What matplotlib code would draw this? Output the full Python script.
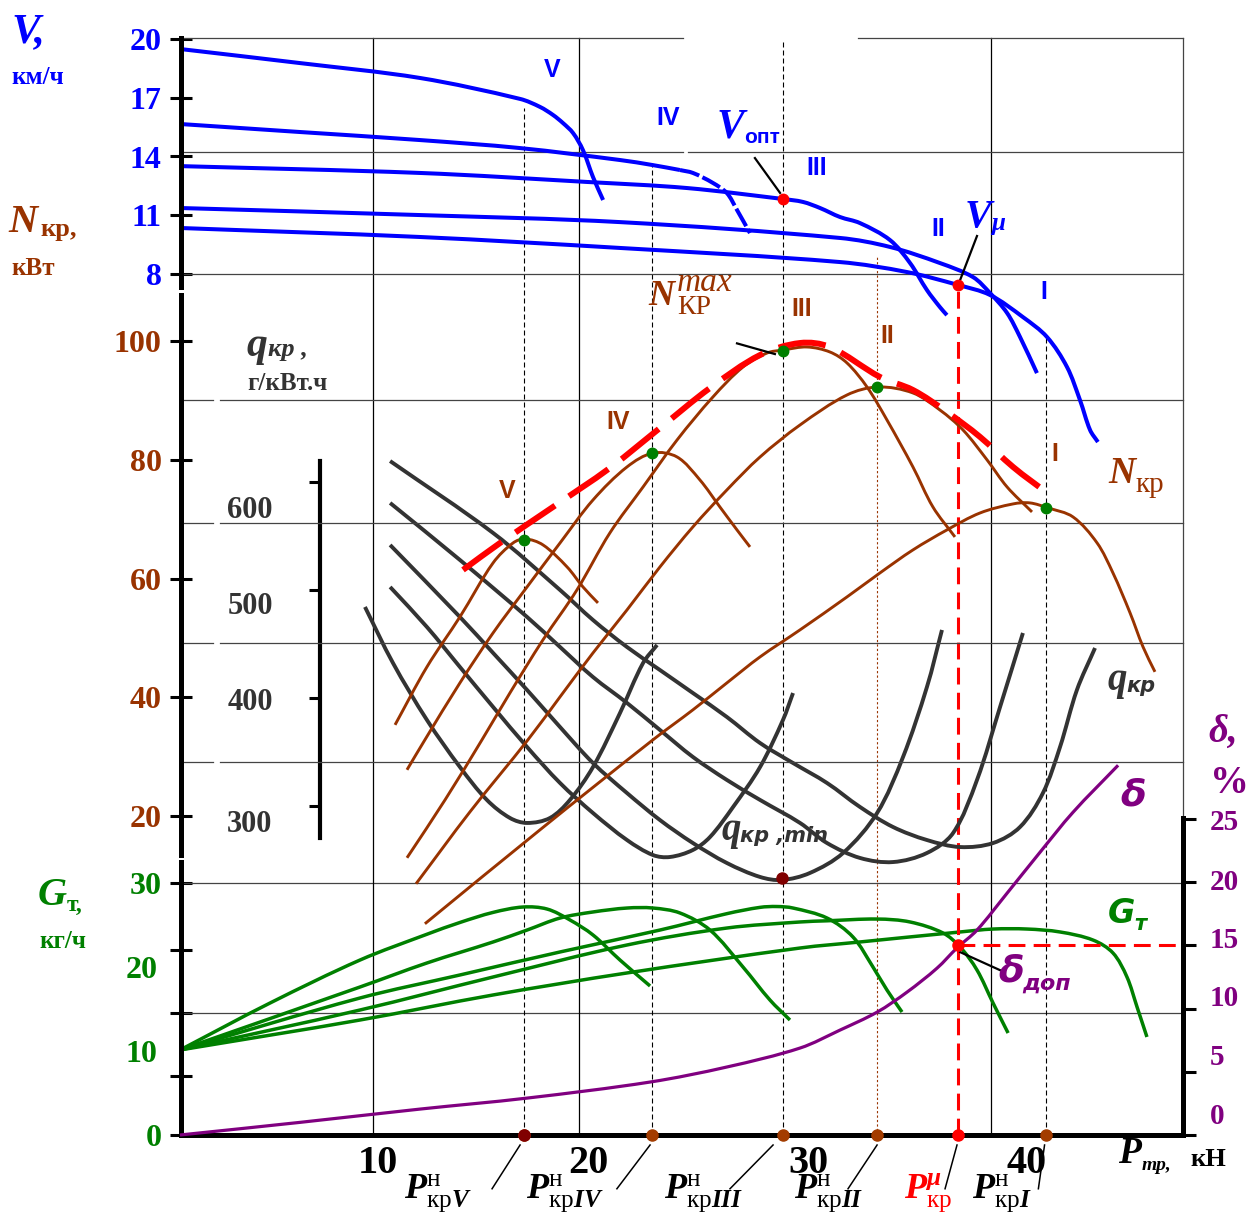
import numpy as np
import matplotlib
matplotlib.use('Agg')
import matplotlib.pyplot as plt
from matplotlib.path import Path
from matplotlib.patches import PathPatch

plt.rcParams['font.family'] = ['Liberation Serif', 'DejaVu Serif']
plt.rcParams['mathtext.fontset'] = 'custom'
plt.rcParams['mathtext.rm'] = 'Liberation Serif'
plt.rcParams['mathtext.it'] = 'Liberation Serif:italic'
plt.rcParams['mathtext.bf'] = 'Liberation Serif:bold'
plt.rcParams['mathtext.bfit'] = 'Liberation Serif:bold:italic'

BLUE = '#0000ff'
BROWN = '#993300'
GRAY = '#333333'
GREEN = '#008000'
PURPLE = '#800080'
RED = '#ff0000'

# --- скорость V, км/ч (передачи V ... I) ---
P_v5 = [0.63, 6.46, 12.28, 17.14, 18.11, 18.74, 19.22, 19.71, 20.19, 20.68, 21.17]
V_v5 = [19.49, 18.77, 18.01, 16.94, 16.53, 16.12, 15.71, 15.20, 14.33, 12.95, 11.78]
P_v4 = [0.63, 6.46, 12.28, 17.14, 21.99, 23.59, 24.90, 25.53, 26.50, 27.18, 27.67, 28.30]
V_v4 = [15.66, 15.25, 14.84, 14.43, 13.82, 13.56, 13.31, 13.16, 12.65, 12.13, 11.27, 10.09]
P_v3 = [0.63, 12.28, 20.39, 25.24, 29.90, 30.87, 31.70, 32.67, 33.64, 35.10, 36.07, 36.89, 37.52, 37.86]
V_v3 = [13.51, 13.16, 12.70, 12.39, 11.83, 11.68, 11.37, 10.91, 10.60, 9.73, 8.56, 7.18, 6.31, 5.90]
P_v2 = [0.63, 12.28, 21.99, 32.67, 35.10, 37.52, 39.13, 39.95, 40.78, 41.41, 42.23]
V_v2 = [11.37, 11.01, 10.65, 9.84, 9.38, 8.56, 7.84, 7.03, 6.01, 4.78, 2.94]
P_v1 = [0.63, 12.28, 21.99, 32.67, 35.92, 38.40, 39.95, 41.55, 42.72, 43.69, 44.32, 44.81, 45.19]
V_v1 = [10.35, 9.89, 9.33, 8.61, 8.10, 7.44, 6.93, 5.80, 4.78, 3.25, 1.56, 0.03, -0.58]

# --- тяговая мощность N_кр, кВт ---
P_n5 = [11.07, 12.62, 14.22, 15.83, 16.80, 17.38, 18.25, 19.42, 20.19, 20.92]
N_n5 = [35.35, 45.12, 53.54, 62.63, 65.99, 66.67, 65.66, 61.95, 58.59, 55.89]
P_n4 = [11.65, 12.52, 14.22, 15.83, 17.48, 19.08, 20.68, 22.33, 23.59, 24.76, 25.87, 26.84, 27.67, 28.30]
N_n4 = [27.78, 32.83, 42.42, 50.84, 58.59, 65.99, 73.23, 78.79, 81.14, 80.47, 76.60, 72.05, 68.18, 65.32]
P_n3 = [11.65, 13.50, 15.29, 16.65, 18.25, 19.90, 21.50, 23.11, 24.76, 26.50, 27.96, 29.13, 29.90,
        31.07, 32.18, 33.01, 33.98, 34.95, 36.21, 37.18, 38.25]
N_n3 = [12.96, 22.73, 32.83, 40.74, 49.66, 58.08, 67.68, 75.42, 83.33, 90.57, 95.62, 97.98, 98.48,
        98.99, 98.15, 96.30, 92.26, 86.70, 78.79, 72.05, 67.00]
P_n2 = [12.09, 14.71, 17.52, 19.08, 20.68, 22.33, 23.93, 25.53, 27.18, 28.79, 30.73, 33.01,
        34.51, 36.21, 37.52, 38.64, 39.81, 40.78, 41.99]
N_n2 = [8.59, 20.71, 32.83, 40.07, 47.47, 54.71, 61.95, 68.69, 74.92, 80.47, 85.86, 90.91,
        92.26, 91.25, 88.38, 85.02, 79.97, 75.42, 71.21]
P_n1 = [12.52, 18.11, 23.59, 25.53, 27.18, 28.79, 30.73, 33.01, 34.61, 36.21, 37.86, 39.47,
        41.07, 41.89, 42.77, 43.98, 45.15, 45.92, 46.75, 47.38, 47.96]
N_n1 = [1.85, 17.68, 32.83, 37.88, 42.42, 46.80, 51.35, 56.90, 60.94, 64.81, 68.18, 71.04,
        72.56, 72.73, 71.89, 70.37, 65.99, 60.94, 54.21, 48.48, 44.28]
# огибающая N_кр max
P_nmax = [14.37, 16.17, 18.74, 21.50, 23.93, 26.36, 28.79, 30.73, 32.18, 34.61, 36.21, 37.86, 39.47, 41.07, 42.86]
N_nmax = [61.45, 65.99, 72.05, 78.62, 85.35, 92.09, 97.64, 99.66, 98.99, 93.94, 91.75, 88.05, 83.84, 78.79, 74.07]
# номинальные тяговые усилия P_кр^н (V, IV, III, II, I) и максимумы мощности
P_nom = [17.33, 23.56, 29.90, 34.49, 42.65]
N_peak = [66.5, 81.1, 98.3, 92.3, 71.9]
V_guide_top = [16.48, 13.67, 19.85, 8.97, 4.78]

# --- удельный расход q_кр, г/кВт.ч ---
P_q5 = [9.61, 10.97, 12.62, 14.22, 15.53, 16.65, 17.48, 18.59, 19.56, 20.68, 21.99, 23.11, 23.79]
q_q5 = [484.3, 432.4, 379.6, 336.1, 305.6, 288.9, 284.3, 288.9, 305.6, 336.1, 386.1, 432.4, 449.1]
P_q4 = [10.83, 12.62, 14.22, 15.83, 17.48, 19.08, 20.68, 22.33, 23.59, 24.42, 25.53, 26.36, 27.48,
        28.79, 29.90, 30.39]
q_q4 = [502.8, 465.7, 428.7, 391.7, 354.6, 321.3, 293.5, 268.5, 254.6, 252.8, 259.3, 271.3, 299.1,
        336.1, 379.6, 404.6]
P_q3 = [10.83, 14.22, 15.83, 17.48, 19.08, 20.68, 22.33, 23.93, 25.53, 27.18, 28.79, 29.85, 31.21,
        32.82, 34.47, 35.73, 36.89, 37.62]
q_q3 = [541.7, 475.0, 441.7, 407.4, 373.1, 339.8, 312.0, 287.0, 265.7, 247.2, 234.3, 231.5, 238.0,
        256.5, 293.5, 345.4, 410.2, 463.0]
P_q2 = [10.83, 14.22, 17.48, 19.08, 20.68, 22.33, 23.93, 25.53, 27.18, 28.79, 30.73, 32.04, 33.64,
        35.24, 36.89, 38.16, 39.32, 40.44, 41.55]
q_q2 = [580.6, 527.8, 475.0, 447.2, 419.4, 395.4, 370.4, 345.4, 324.1, 305.6, 284.3, 265.7, 251.9,
        248.1, 256.5, 275.0, 324.1, 391.7, 460.2]
P_q1 = [10.83, 15.83, 19.08, 20.68, 22.33, 23.93, 25.53, 27.18, 28.79, 30.39, 32.04, 33.64, 35.24,
        36.89, 38.50, 40.10, 41.41, 42.52, 43.35, 44.17, 45.05]
q_q1 = [619.4, 552.8, 500.0, 472.2, 447.2, 425.9, 404.6, 382.4, 358.3, 339.8, 321.3, 299.1, 280.6,
        268.5, 262.0, 265.7, 280.6, 312.0, 354.6, 407.4, 446.3]
P_qmin, q_min = 29.85, 233.3

# --- часовой расход G_т, кг/ч ---
P_g5 = [0.63, 5.0, 9.37, 12.62, 14.22, 15.83, 17.28, 18.45, 19.56, 20.68, 21.99, 23.45]
G_g5 = [10.12, 15.71, 20.83, 23.9, 25.3, 26.5, 27.14, 26.90, 25.60, 23.81, 20.83, 17.74]
P_g4 = [0.63, 9.37, 12.62, 15.83, 17.48, 19.08, 20.68, 22.33, 23.59, 24.90, 26.36, 27.96, 29.27, 30.24]
G_g4 = [10.12, 17.62, 20.48, 22.98, 24.40, 25.83, 26.55, 27.02, 27.02, 26.43, 24.40, 20.0, 16.07, 13.69]
P_g3 = [0.63, 9.37, 14.22, 19.08, 23.93, 27.18, 28.79, 29.6, 30.39, 32.04, 33.30, 34.27, 34.95, 35.68]
G_g3 = [10.12, 16.31, 19.05, 21.79, 24.40, 26.35, 27.1, 27.2, 27.02, 25.83, 23.57, 20.0, 17.26, 14.64]
P_g2 = [0.63, 9.37, 15.83, 22.33, 27.18, 30.73, 32.04, 34.47, 36.07, 37.67, 38.50, 39.32, 40.10, 40.83]
G_g2 = [10.12, 14.88, 18.81, 22.62, 24.64, 25.36, 25.5, 25.71, 25.36, 24.05, 22.38, 19.64, 15.71, 12.14]
P_g1 = [0.63, 9.37, 15.83, 22.33, 30.73, 33.64, 38.50, 40.10, 41.75, 43.35, 44.95, 45.92, 46.60, 47.09, 47.57]
G_g1 = [10.12, 13.69, 16.67, 19.29, 22.26, 22.98, 24.17, 24.52, 24.52, 24.17, 23.21, 21.67, 18.81, 15.24, 11.67]

# --- буксование δ, % ---
P_d = [0.63, 6.46, 12.28, 17.48, 23.45, 27.18, 30.73, 32.67, 34.47, 35.92, 37.38, 38.35, 39.32, 40.78,
       42.38, 43.98, 46.17]
d_d = [0.0, 1.0, 2.05, 2.92, 4.19, 5.38, 6.88, 8.30, 9.72, 11.30, 13.2, 14.8, 16.21, 19.13,
       22.37, 25.53, 29.25]
d_labels = ['25', '20', '15', '10', '5', '0']
d_label_at = [24.98, 20.24, 15.65, 11.07, 6.40, 1.74]   # где стоят подписи шкалы δ

P_mu = 38.4          # P_кр^μ
delta_dop = 15       # δ_доп
V_mu = 7.44
P_opt, V_opt = 29.9, 11.83

# --- figure / overlaid scales ---
W, H = 1260, 1213
X0, KX = 167, 20.6          # pixel column of P = 0, pixels per kN
XL, XR = 181, 1183          # left and right axis lines
P_left, P_right = (XL - X0) / KX, (XR - X0) / KX

fig = plt.figure(figsize=(W / 100, H / 100), dpi=100)


def layer(v1, y1, v2, y2):
    a = fig.add_axes([0, 0, 1, 1])
    a.set_xlim(-X0 / KX, (W - X0) / KX)
    k = (v2 - v1) / (y1 - y2)
    a.set_ylim(v1 - (H - y1) * k, v1 + y1 * k)
    a.patch.set_visible(False)
    for s in a.spines.values():
        s.set_visible(False)
    a.set_xticks([])
    a.set_yticks([])
    return a


def frac(a, v):
    lo, hi = a.get_ylim()
    return (v - lo) / (hi - lo)


def txt(x, y, s, **kw):
    fig.text(x / W, 1 - y / H, s, **kw)


def curve(a, xs, ys, color, lw, ls='-', z=2):
    # smooth line through the read points (chord-parametrised cubic Bezier path)
    pts = np.column_stack([xs, ys]).astype(float)
    d = a.transData.transform(pts)
    t = np.concatenate([[0.0], np.cumsum(np.hypot(*np.diff(d, axis=0).T))])
    n = len(pts)
    m = np.zeros_like(pts)
    for i in range(n):
        lo, hi = max(i - 1, 0), min(i + 1, n - 1)
        m[i] = (pts[hi] - pts[lo]) / (t[hi] - t[lo])
    verts, codes = [pts[0]], [Path.MOVETO]
    for i in range(n - 1):
        h = t[i + 1] - t[i]
        verts += [pts[i] + m[i] * h / 3, pts[i + 1] - m[i + 1] * h / 3, pts[i + 1]]
        codes += [Path.CURVE4] * 3
    a.add_patch(PathPatch(Path(verts, codes), fill=False, edgecolor=color, lw=lw,
                          linestyle=ls, capstyle='butt', zorder=z))


axG = layer(30, 883, 0, 1135)
axD = layer(25, 819, 0, 1135)
axQ = layer(600, 482, 300, 806)
axN = layer(100, 341, 20, 816)
axV = layer(20, 39, 8, 274)

# grid
gc, gw = '#444444', 0.9
axV.plot([P_left, 25.05], [20.05, 20.05], color=gc, lw=gw)
axV.plot([33.54, P_right], [20.05, 20.05], color=gc, lw=gw)
axV.plot([P_left, 25.05], [14.23, 14.23], color=gc, lw=gw)
axV.plot([25.29, P_right], [14.23, 14.23], color=gc, lw=gw)
axV.plot([P_left, P_right], [8.0, 8.0], color=gc, lw=gw)
for n in [90.07, 69.36, 49.16, 29.12]:
    axN.plot([P_left, 2.23], [n, n], color=gc, lw=gw)
    axN.plot([2.57, P_right], [n, n], color=gc, lw=gw)
for g in [30, 14.52]:
    axG.plot([P_left, P_right], [g, g], color=gc, lw=gw)
for p in [10, 20, 40]:
    axG.axvline(p, ymin=frac(axG, 0), ymax=frac(axV, 20.05), color='k', lw=0.9)
axG.axvline(P_right, ymin=frac(axD, 25.1), ymax=frac(axV, 20.05), color=gc, lw=0.9)

# guide lines at P_кр^н
for p, top, c in zip(P_nom, V_guide_top, ['k', 'k', 'k', BROWN, 'k']):
    axG.axvline(p, ymin=frac(axG, 0), ymax=frac(axV, top), color=c, lw=0.8,
                dashes=(4.5, 2.7) if c == 'k' else (2, 2))


# axes lines
def left_spine(a, lo, hi, ticks, labels, color, xpos=XL, size=23):
    sp = a.spines['left']
    sp.set_visible(True)
    sp.set_position(('axes', xpos / W))
    sp.set_bounds(lo, hi)
    sp.set_linewidth(3.6)
    a.set_yticks(ticks)
    a.set_yticklabels(labels, fontweight='bold')
    a.tick_params(axis='y', left=True, direction='inout', length=16, width=2.2,
                  pad=6, labelsize=size, labelcolor=color)


left_spine(axV, 7.33, 20.05, [20, 17, 14, 11, 8], ['20', '17', '14', '11', '8'], BLUE)
left_spine(axN, 13.5, 107.7, [100, 80, 60, 40, 20], ['100', '80', '60', '40', '20'], BROWN)
left_spine(axG, 0, 32.5, [0, 7, 14.5, 22, 30], ['0', '', '', '', '30'], GREEN)
axG.set_yticks([10, 20], minor=True)
axG.set_yticklabels(['10', '20'], minor=True, fontweight='bold')
axG.tick_params(axis='y', which='minor', length=0, pad=17, labelsize=23, labelcolor=GREEN)
axG.spines['bottom'].set_visible(True)
axG.spines['bottom'].set_position(('data', 0))
axG.spines['bottom'].set_bounds(P_left, P_right)
axG.spines['bottom'].set_linewidth(3.6)

sq = axQ.spines['left']
sq.set_visible(True)
sq.set_position(('axes', 320 / W))
sq.set_bounds(270.4, 619.4)
sq.set_linewidth(3)
axQ.set_yticks([300, 400, 500, 600])
axQ.set_yticklabels([])
axQ.tick_params(axis='y', left=True, direction='out', length=8, width=2.2)

sd = axD.spines['right']
sd.set_visible(True)
sd.set_position(('axes', XR / W))
sd.set_bounds(0, 25.1)
sd.set_linewidth(3.6)
axD.set_yticks([0, 5, 10, 15, 20, 25])
axD.set_yticklabels([])
axD.tick_params(axis='y', left=False, labelleft=False, right=True, labelright=False,
                direction='out', length=9, width=2.2)
axD.set_yticks(d_label_at, minor=True)
axD.set_yticklabels(d_labels, minor=True, fontweight='bold')
axD.tick_params(axis='y', which='minor', left=False, labelleft=False, right=True, labelright=True,
                length=0, pad=19, labelsize=21, labelcolor=PURPLE)

# --- curves ---
for p, v in [(P_v5, V_v5), (P_v3, V_v3), (P_v2, V_v2), (P_v1, V_v1)]:
    curve(axV, p, v, BLUE, 2.9)
curve(axV, P_v4[:7], V_v4[:7], BLUE, 2.9)
curve(axV, P_v4[6:], V_v4[6:], BLUE, 2.9, ls=(0, (5, 0.9)))

for p, n in [(P_n5, N_n5), (P_n4, N_n4), (P_n3, N_n3), (P_n2, N_n2), (P_n1, N_n1)]:
    curve(axN, p, n, BROWN, 2.1)
curve(axN, P_nmax, N_nmax, RED, 4.3, ls=(0, (8, 2.8)), z=4)

for p, q in [(P_q5, q_q5), (P_q4, q_q4), (P_q3, q_q3), (P_q2, q_q2), (P_q1, q_q1)]:
    curve(axQ, p, q, GRAY, 2.8)

for p, g in [(P_g5, G_g5), (P_g4, G_g4), (P_g3, G_g3), (P_g2, G_g2), (P_g1, G_g1)]:
    curve(axG, p, g, GREEN, 2.5)

curve(axD, P_d, d_d, PURPLE, 2.3)

# red limit lines
axG.axvline(P_mu, ymin=frac(axG, 0), ymax=frac(axV, V_mu), color=RED, lw=2.2, dashes=(5.5, 2.7))
axD.plot([P_mu, P_right], [delta_dop, delta_dop], color=RED, lw=2.2, dashes=(5.5, 2.7))

# points
axN.plot(P_nom, N_peak, 'o', color=GREEN, ms=7.5, zorder=5)
axV.plot([P_opt, P_mu], [V_opt, V_mu], 'o', color=RED, ms=7.5, zorder=5)
axQ.plot([P_qmin], [q_min], 'o', color='#800000', ms=8, zorder=5)
axD.plot([P_mu], [delta_dop], 'o', color=RED, ms=8, zorder=5)
axG.plot(P_nom, [0] * 5, 'o', color='#a33c00', ms=8, zorder=5, clip_on=False)
axG.plot(P_nom[:1], [0], 'o', color='#800000', ms=8, zorder=6, clip_on=False)
axG.plot([P_mu], [0], 'o', color=RED, ms=8, zorder=6, clip_on=False)

# leader lines
axV.plot([28.54, 29.76], [13.92, 12.14], color='k', lw=1.6)
axV.plot([39.32, 38.50], [9.94, 7.69], color='k', lw=1.6)
axN.plot([27.67, 29.51], [99.6, 97.8], color='k', lw=1.6)
axD.plot([38.5, 40.44], [14.47, 13.04], color='k', lw=1.6)
for p0, p1 in [(17.14, 15.78), (23.45, 21.84), (29.42, 27.33), (34.47, 33.06), (38.35, 37.77), (42.6, 42.3)]:
    axG.plot([p0, p1], [-1.19, -6.4], color='k', lw=1.1, clip_on=False)

# --- texts ---
BI = dict(fontweight='bold', fontstyle='italic')
B = dict(fontweight='bold')
SANS = ['Liberation Sans', 'DejaVu Sans']
DJ = ['DejaVu Sans']

txt(11, 42, 'V,', color=BLUE, fontsize=31, va='baseline', **BI)
txt(11, 84, 'км/ч', color=BLUE, fontsize=18, va='baseline', **B)
txt(8, 232, 'N', color=BROWN, fontsize=29, va='baseline', **BI)
txt(40, 236, 'кр,', color=BROWN, fontsize=19, va='baseline', **B)
txt(11, 275, 'кВт', color=BROWN, fontsize=18, va='baseline', **B)

txt(246, 356, 'q', color=GRAY, fontsize=30, va='baseline', **BI)
txt(268, 356, 'кр ,', color=GRAY, fontsize=19, va='baseline', **BI)
txt(247, 390, 'г/кВт.ч', color=GRAY, fontsize=18, va='baseline', **B)
for s, y in zip(['600', '500', '400', '300'], [511, 606, 703, 825]):
    txt(250, y, s, color=GRAY, fontsize=22, ha='center', va='center', **B)

txt(38, 905, 'G', color=GREEN, fontsize=29, va='baseline', **BI)
txt(67, 911, 'т,', color=GREEN, fontsize=17, va='baseline', **B)
txt(39, 948, 'кг/ч', color=GREEN, fontsize=18, va='baseline', **B)

txt(1208, 742, 'δ,', color=PURPLE, fontsize=28, va='baseline', **BI)
txt(1210, 793, '%', color=PURPLE, fontsize=28, va='baseline', **B)

for s, x, y in [('V', 552, 70), ('IV', 668, 118), ('III', 817, 168), ('II', 938, 229), ('I', 1044, 292)]:
    txt(x, y, s, color=BLUE, fontsize=18, ha='center', va='center', family=SANS, **B)
for s, x, y in [('III', 802, 309), ('II', 887, 336), ('IV', 618, 422), ('V', 507, 491), ('I', 1055, 454)]:
    txt(x, y, s, color=BROWN, fontsize=18, ha='center', va='center', family=SANS, **B)

txt(717, 138, 'V', color=BLUE, fontsize=30, va='baseline', **BI)
txt(744, 143, 'опт', color=BLUE, fontsize=15, va='baseline', family=SANS, **B)
txt(965, 227, 'V', color=BLUE, fontsize=29, va='baseline', **BI)
txt(991, 230, 'μ', color=BLUE, fontsize=18, va='baseline', **BI)

txt(648, 305, 'N', color=BROWN, fontsize=26, va='baseline', **BI)
txt(677, 291, 'max', color=BROWN, fontsize=24, va='baseline', fontstyle='italic')
txt(677, 314, 'КР', color=BROWN, fontsize=20, va='baseline')

txt(1108, 483, 'N', color=BROWN, fontsize=27, va='baseline', **BI)
txt(1136, 492, 'кр', color=BROWN, fontsize=21, va='baseline')

txt(1108, 690, 'q', color=GRAY, fontsize=28, va='baseline', **BI)
txt(1126, 692, 'кр', color=GRAY, fontsize=15, va='baseline', family=DJ, **BI)
txt(721, 840, 'q', color=GRAY, fontsize=28, va='baseline', **BI)
txt(740, 842, 'кр ,min', color=GRAY, fontsize=15, va='baseline', family=DJ, **BI)

txt(1120, 806, 'δ', color=PURPLE, fontsize=27, va='baseline', family=DJ, **BI)
txt(1108, 923, 'G', color=GREEN, fontsize=24, va='baseline', family=DJ, **BI)
txt(1134, 930, 'т', color=GREEN, fontsize=15, va='baseline', family=DJ, **BI)
txt(998, 982, 'δ', color=PURPLE, fontsize=27, va='baseline', family=DJ, **BI)
txt(1022, 990, 'доп', color=PURPLE, fontsize=16, va='baseline', family=DJ, **BI)

for s, x in [('10', 378), ('20', 588), ('30', 808), ('40', 1027)]:
    txt(x, 1173, s, color='k', fontsize=29, ha='center', va='baseline', **B)
txt(1118, 1163, 'P', color='k', fontsize=27, va='baseline', **BI)
txt(1142, 1170, 'тр,', color='k', fontsize=14, va='baseline', **BI)
txt(1190, 1166, 'кН', color='k', fontsize=19, va='baseline', **B)

for s, x, c in [(r'$\mathbfit{P}^{\mathrm{н}}_{\mathrm{кр}\mathbfit{V}}$', 404, 'k'),
                (r'$\mathbfit{P}^{\mathrm{н}}_{\mathrm{кр}\mathbfit{IV}}$', 526, 'k'),
                (r'$\mathbfit{P}^{\mathrm{н}}_{\mathrm{кр}\mathbfit{III}}$', 664, 'k'),
                (r'$\mathbfit{P}^{\mathrm{н}}_{\mathrm{кр}\mathbfit{II}}$', 794, 'k'),
                (r'$\mathbfit{P}^{\mathbfit{μ}}_{\mathrm{кр}}$', 904, RED),
                (r'$\mathbfit{P}^{\mathrm{н}}_{\mathrm{кр}\mathbfit{I}}$', 972, 'k')]:
    txt(x, 1198, s, color=c, fontsize=26, va='baseline')

fig.savefig('out.png', dpi=100)
